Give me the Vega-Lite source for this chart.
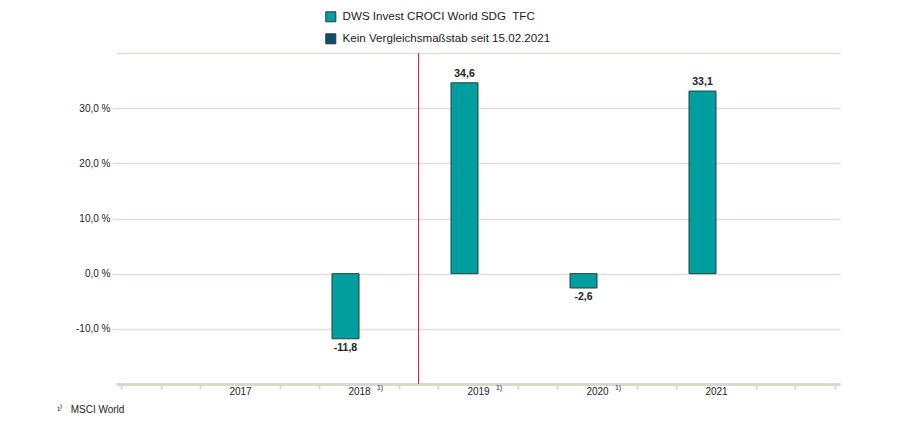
{
  "$schema": "https://vega.github.io/schema/vega-lite/v6.json",
  "width": 724,
  "height": 331,
  "autosize": {"type": "none"},
  "padding": {"left": 116, "top": 53, "right": 57, "bottom": 46},
  "background": "white",
  "config": {
    "locale": {"number": {"decimal": ",", "thousands": ".", "grouping": [3], "currency": ["", " €"], "minus": "-"}},
    "view": {"stroke": null},
    "font": "Liberation Sans"
  },
  "title": {
    "text": "¹⁾\u00a0\u00a0\u00a0MSCI World",
    "orient": "bottom",
    "anchor": "start",
    "frame": "group",
    "dx": -59,
    "offset": 9,
    "fontSize": 10,
    "fontWeight": "normal",
    "color": "#222222",
    "font": "Liberation Sans"
  },
  "data": {
    "values": [
      {"year": 2017, "value": null, "series": "DWS Invest CROCI World SDG\u00a0 TFC", "benchmark": false},
      {"year": 2018, "value": -11.8, "series": "DWS Invest CROCI World SDG\u00a0 TFC", "benchmark": true},
      {"year": 2019, "value": 34.6, "series": "DWS Invest CROCI World SDG\u00a0 TFC", "benchmark": true},
      {"year": 2020, "value": -2.6, "series": "DWS Invest CROCI World SDG\u00a0 TFC", "benchmark": true},
      {"year": 2021, "value": 33.1, "series": "DWS Invest CROCI World SDG\u00a0 TFC", "benchmark": false}
    ]
  },
  "encoding": {
    "x": {
      "field": "year",
      "type": "quantitative",
      "scale": {"domain": [2016, 2022], "nice": false, "zero": false},
      "axis": {
        "title": null,
        "grid": false,
        "values": [2016, 2016.3333, 2016.6667, 2017, 2017.3333, 2017.6667, 2018, 2018.3333, 2018.6667, 2019, 2019.3333, 2019.6667, 2020, 2020.3333, 2020.6667, 2021, 2021.3333, 2021.6667, 2022],
        "domainColor": "#DCD7CD",
        "domainWidth": 3,
        "tickColor": "#DCD7CD",
        "tickWidth": 2,
        "tickSize": 5,
        "tickOpacity": {"condition": {"test": "abs(datum.value - round(datum.value)) < 0.01 && datum.value > 2016.5 && datum.value < 2021.5", "value": 0}, "value": 1},
        "labelExpr": "abs(datum.value - round(datum.value)) < 0.01 && datum.value > 2016.5 && datum.value < 2021.5 ? '' + round(datum.value) : ''",
        "labelOverlap": false,
        "labelFlush": false,
        "labelFontSize": 10,
        "labelColor": "#1A1A1A",
        "labelPadding": -3
      }
    }
  },
  "layer": [
    {
      "mark": {"type": "bar", "width": 27, "xOffset": -13.5, "stroke": "#263F3F", "strokeWidth": 1},
      "encoding": {
        "y": {
          "field": "value",
          "type": "quantitative",
          "scale": {"domain": [-20, 40], "nice": false, "zero": false},
          "axis": {
            "title": null,
            "values": [-20, -10, 0, 10, 20, 30, 40],
            "format": ".1f",
            "labelExpr": "datum.value > 35 || datum.value < -15 ? '' : datum.label + ' %'",
            "domain": false,
            "grid": true,
            "gridColor": "#E2DED7",
            "gridWidth": 1.5,
            "tickColor": "#E2DED7",
            "tickWidth": 1.5,
            "tickSize": 4,
            "tickOpacity": {"condition": {"test": "datum.value > 35 || datum.value < -15", "value": 0}, "value": 1},
            "labelFontSize": 10,
            "labelColor": "#1A1A1A",
            "labelPadding": 2
          }
        },
        "color": {
          "field": "series",
          "type": "nominal",
          "scale": {
            "domain": ["DWS Invest CROCI World SDG\u00a0 TFC", "Kein Vergleichsmaßstab seit 15.02.2021"],
            "range": ["#009E9E", "#0B4F6C"]
          },
          "legend": {
            "orient": "none",
            "legendX": 209,
            "legendY": -42,
            "title": null,
            "direction": "vertical",
            "symbolType": "square",
            "symbolSize": 100,
            "symbolStrokeColor": "#333333",
            "symbolStrokeWidth": 1,
            "labelFontSize": 11.6,
            "labelColor": "#1A1A1A",
            "labelOffset": 6,
            "labelLimit": 0,
            "rowPadding": 7,
            "padding": 0
          }
        }
      }
    },
    {
      "mark": {"type": "rule", "color": "#E02828", "strokeWidth": 1},
      "encoding": {"x": {"datum": 2018.5}}
    },
    {
      "transform": [{"filter": "datum.value > 0"}],
      "mark": {"type": "text", "baseline": "bottom", "dy": -4, "dx": -13.5, "fontSize": 10.5, "fontWeight": "bold", "color": "#222222"},
      "encoding": {
        "y": {"field": "value", "type": "quantitative"},
        "text": {"field": "value", "type": "quantitative", "format": ".1f"}
      }
    },
    {
      "transform": [{"filter": "datum.value < 0"}],
      "mark": {"type": "text", "baseline": "top", "dy": 4, "dx": -13.5, "fontSize": 10.5, "fontWeight": "bold", "color": "#222222"},
      "encoding": {
        "y": {"field": "value", "type": "quantitative"},
        "text": {"field": "value", "type": "quantitative", "format": ".1f"}
      }
    },
    {
      "transform": [{"filter": "datum.benchmark"}],
      "mark": {"type": "text", "baseline": "middle", "dx": 21, "dy": 4, "fontSize": 7, "color": "#222222"},
      "encoding": {
        "y": {"datum": -20},
        "text": {"value": "1)"}
      }
    }
  ]
}
